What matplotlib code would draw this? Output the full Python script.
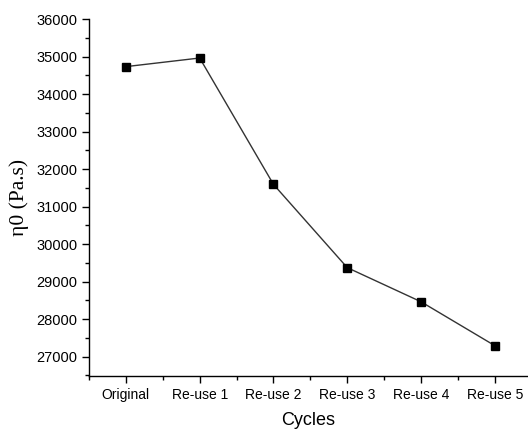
import matplotlib
matplotlib.use("Agg")
import matplotlib.pyplot as plt
from matplotlib.ticker import MultipleLocator

# Data
cycles = ["Original", "Re-use 1", "Re-use 2", "Re-use 3", "Re-use 4", "Re-use 5"]
eta0 = [34730, 34960, 31590, 29370, 28460, 27290]

plt.rcParams['font.family'] = ['Liberation Sans', 'DejaVu Sans']

fig = plt.figure(figsize=(5.28, 4.32), dpi=100)
ax = fig.add_axes([0.1686, 0.1296, 0.8314, 0.8264])

x = list(range(len(cycles)))
ax.plot(x, eta0, color='#333333', linewidth=1.0, marker='s', markersize=6,
        markerfacecolor='black', markeredgecolor='black')

ax.set_xlim(-0.5, 5.45)
ax.set_ylim(26480, 36000)
ax.set_xticks(x)
ax.set_xticklabels(cycles, fontsize=10)
ax.xaxis.set_minor_locator(MultipleLocator(1.0, offset=0.5))
ax.yaxis.set_major_locator(MultipleLocator(1000))
ax.yaxis.set_minor_locator(MultipleLocator(500))
ax.tick_params(axis='y', labelsize=10.5)

ax.tick_params(which='major', direction='out', length=5, width=1)
ax.tick_params(which='minor', direction='out', length=3, width=1)

for side in ['top', 'right']:
    ax.spines[side].set_visible(False)
for side in ['left', 'bottom']:
    ax.spines[side].set_linewidth(1.0)

ax.set_xlabel("Cycles", fontsize=13, labelpad=7)
ax.set_ylabel("η0 (Pa.s)", fontsize=15.5, labelpad=5,
              family=['Liberation Serif', 'DejaVu Serif'])

fig.savefig("out.png", dpi=100)
